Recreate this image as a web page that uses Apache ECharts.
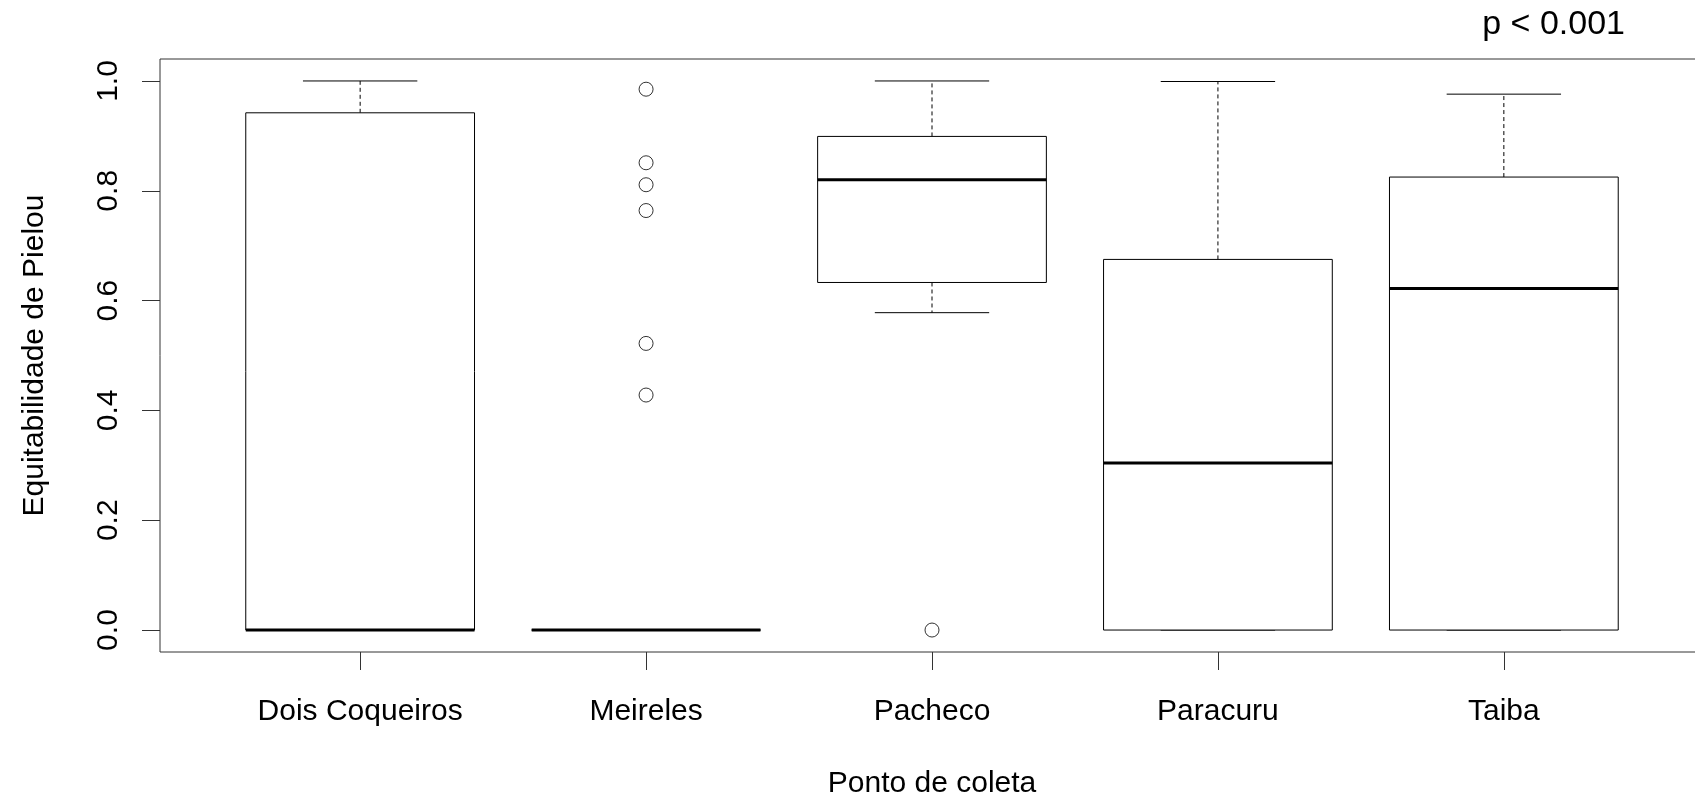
<!DOCTYPE html>
<html>
<head>
<meta charset="utf-8">
<script src="https://cdn.jsdelivr.net/npm/echarts@6/dist/echarts.min.js"></script>
<style>
  html, body { margin: 0; padding: 0; background: #ffffff; }
  #chart { width: 1695px; height: 798px; }
</style>
</head>
<body>
<div id="chart"></div>
<script>
// Sampling sites and the five-number summary of Pielou's evenness at each
const categories   = ['Dois Coqueiros', 'Meireles', 'Pacheco', 'Paracuru', 'Taiba'];
const lowerWhisker = [0.000, 0.000, 0.578, 0.000, 0.000];
const lowerHinge   = [0.000, 0.000, 0.633, 0.000, 0.000];
const medians      = [0.000, 0.000, 0.820, 0.304, 0.622];
const upperHinge   = [0.942, 0.000, 0.899, 0.675, 0.825];
const upperWhisker = [1.000, 0.000, 1.000, 0.999, 0.976];

// Points lying beyond the whiskers (site index, value)
const outlierSite  = [1, 1, 1, 1, 1, 1, 2];
const outlierValue = [0.985, 0.851, 0.811, 0.764, 0.522, 0.428, 0.000];

// Tick labels of the evenness axis
const yTicks = [0, 0.2, 0.4, 0.6, 0.8, 1.0];

const FONT = "'Liberation Sans', Arial, sans-serif";
const INK = '#000000';

const boxData = categories.map((c, i) => [
  i + 1, lowerWhisker[i], lowerHinge[i], medians[i], upperHinge[i], upperWhisker[i]
]);
const outlierData = outlierSite.map((s, k) => [s + 1, outlierValue[k]]);

function renderBox(params, api) {
  const x = api.value(0);
  const pLw = api.coord([x, api.value(1)]);
  const pQ1 = api.coord([x, api.value(2)]);
  const pMd = api.coord([x, api.value(3)]);
  const pQ3 = api.coord([x, api.value(4)]);
  const pUw = api.coord([x, api.value(5)]);
  const boxW = api.size([0.8, 0])[0];
  const capW = boxW / 2;
  const cx = pMd[0];
  const thin = { stroke: INK, lineWidth: 1, fill: null };
  const dashed = { stroke: INK, lineWidth: 1, lineDash: [4, 3], fill: null };
  return {
    type: 'group',
    children: [
      // whiskers
      { type: 'line', shape: { x1: cx, y1: pQ3[1], x2: cx, y2: pUw[1] }, style: dashed },
      { type: 'line', shape: { x1: cx, y1: pQ1[1], x2: cx, y2: pLw[1] }, style: dashed },
      // staples
      { type: 'line', shape: { x1: cx - capW / 2, y1: pUw[1], x2: cx + capW / 2, y2: pUw[1] }, style: thin },
      { type: 'line', shape: { x1: cx - capW / 2, y1: pLw[1], x2: cx + capW / 2, y2: pLw[1] }, style: thin },
      // box
      { type: 'rect', shape: { x: cx - boxW / 2, y: pQ3[1], width: boxW, height: pQ1[1] - pQ3[1] },
        style: { stroke: INK, lineWidth: 1, fill: '#ffffff' } },
      // median
      { type: 'line', shape: { x1: cx - boxW / 2, y1: pMd[1], x2: cx + boxW / 2, y2: pMd[1] },
        style: { stroke: INK, lineWidth: 3 } }
    ]
  };
}

const chart = echarts.init(document.getElementById('chart'), null, { renderer: 'canvas' });
chart.setOption({
  animation: false,
  backgroundColor: '#ffffff',
  textStyle: { fontFamily: FONT },
  title: {
    text: 'p < 0.001',
    right: 70,
    top: 8,
    padding: 0,
    textStyle: { fontFamily: FONT, fontSize: 34, fontWeight: 'normal', color: INK }
  },
  grid: {
    left: 160, top: 59, width: 1544, height: 593,
    outerBoundsMode: 'none',
    containLabel: false,
    show: true, borderColor: '#333333', borderWidth: 1, backgroundColor: 'transparent'
  },
  xAxis: {
    type: 'value',
    min: 0.3, max: 5.7,
    name: 'Ponto de coleta',
    nameLocation: 'middle',
    nameGap: 117,
    nameTextStyle: { fontFamily: FONT, fontSize: 30, color: INK },
    axisLine: { show: false, onZero: false },
    splitLine: { show: false },
    axisTick: { show: true, customValues: [1, 2, 3, 4, 5], length: 18, lineStyle: { color: '#333333', width: 1 } },
    axisLabel: {
      customValues: [1, 2, 3, 4, 5],
      formatter: v => categories[Math.round(v) - 1],
      fontFamily: FONT, fontSize: 30, color: INK, margin: 45
    }
  },
  yAxis: {
    type: 'value',
    min: -0.04, max: 1.04,
    name: 'Equitabilidade de Pielou',
    nameLocation: 'middle',
    nameRotate: 90,
    nameGap: 110,
    nameTextStyle: { fontFamily: FONT, fontSize: 30, color: INK },
    axisLine: { show: false, onZero: false },
    splitLine: { show: false },
    axisTick: { show: true, customValues: yTicks, length: 18, lineStyle: { color: '#333333', width: 1 } },
    axisLabel: {
      customValues: yTicks,
      formatter: v => v.toFixed(1),
      rotate: 90,
      fontFamily: FONT, fontSize: 30, color: INK, margin: 36
    }
  },
  series: [
    {
      type: 'custom',
      renderItem: renderBox,
      data: boxData,
      encode: { x: 0, y: [1, 2, 3, 4, 5] },
      z: 2
    },
    {
      type: 'scatter',
      data: outlierData,
      symbol: 'circle',
      symbolSize: 14,
      itemStyle: { color: '#ffffff', borderColor: INK, borderWidth: 1 },
      z: 3
    }
  ]
});
</script>
</body>
</html>
